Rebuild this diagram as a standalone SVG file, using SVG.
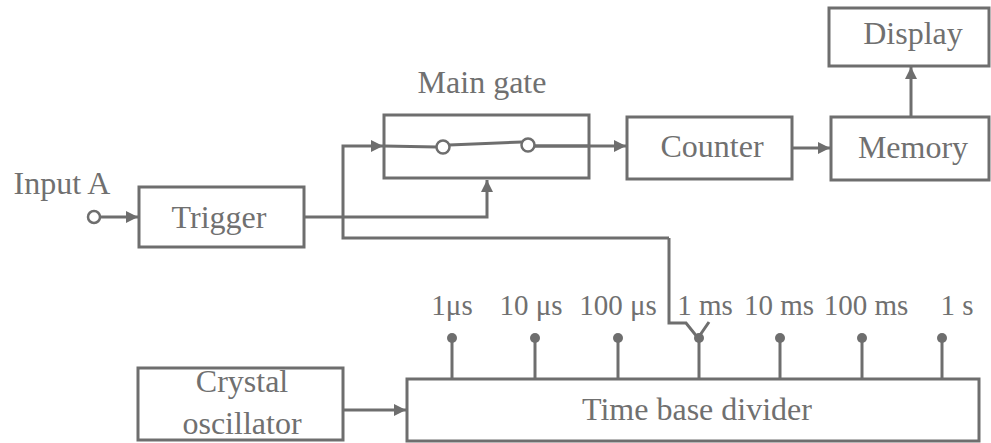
<svg xmlns="http://www.w3.org/2000/svg" width="991" height="443" viewBox="0 0 991 443">
<defs>
<style>
.box{fill:none;stroke:#6e6e6e;stroke-width:3}
.ln{fill:none;stroke:#6e6e6e;stroke-width:3}
.arr{marker-end:url(#ah)}
.t{font-family:"Liberation Serif","Times New Roman",serif;font-size:32px;fill:#707070;text-anchor:middle}
.s{font-family:"Liberation Serif","Times New Roman",serif;font-size:29px;fill:#707070;text-anchor:middle}
.dot{fill:#6e6e6e}
.oc{fill:#fff;stroke:#6e6e6e;stroke-width:2.5}
</style>
<marker id="ah" viewBox="0 0 10 10" refX="10" refY="5" markerWidth="5.5" markerHeight="4" markerUnits="strokeWidth" orient="auto">
<path d="M0,0 L10,5 L0,10 z" fill="#6e6e6e"/>
</marker>
</defs>
<rect width="991" height="443" fill="#fff"/>

<g id="connectors">
<line class="ln arr" x1="100" y1="217" x2="138" y2="217"/>
<polyline class="ln arr" points="304,217 487,217 487,180"/>
<polyline class="ln arr" points="669,238 343,238 343,146 383,146"/>
<polyline class="ln" points="669,238 669,323 686,323 698,338 709,322"/>
<line class="ln arr" x1="534" y1="146" x2="626" y2="146"/>
<line class="ln arr" x1="792" y1="148" x2="830" y2="148"/>
<line class="ln arr" x1="911" y1="117" x2="911" y2="67"/>
<line class="ln arr" x1="343" y1="410" x2="406" y2="410"/>
</g>

<g id="inputA">
<text class="t" x="62" y="194">Input A</text>
<circle class="oc" cx="94" cy="217" r="6"/>
</g>

<g id="trigger">
<rect class="box" x="139" y="187" width="165" height="60"/>
<text class="t" x="219" y="228">Trigger</text>
</g>

<g id="maingate">
<text class="t" x="482" y="93">Main gate</text>
<rect class="box" x="384" y="115" width="205" height="63"/>
<line class="ln" x1="384" y1="146" x2="437" y2="147"/>
<line class="ln" x1="449" y1="145" x2="522" y2="142"/>
<line class="ln" x1="534" y1="146" x2="589" y2="146"/>
<circle class="oc" cx="443" cy="147" r="6.5"/>
<circle class="oc" cx="528" cy="145" r="6.5"/>
</g>

<g id="counter">
<rect class="box" x="627" y="117" width="165" height="62"/>
<text class="t" x="712" y="157">Counter</text>
</g>

<g id="memory">
<rect class="box" x="831" y="117" width="158" height="63"/>
<text class="t" x="913" y="158">Memory</text>
</g>

<g id="display">
<rect class="box" x="829" y="8" width="160" height="58"/>
<text class="t" x="913" y="44">Display</text>
</g>

<g id="crystal">
<rect class="box" x="138" y="368" width="205" height="72"/>
<text class="t" x="242" y="392">Crystal</text>
<text class="t" x="242" y="434">oscillator</text>
</g>

<g id="timebase">
<rect class="box" x="407" y="379" width="572" height="62"/>
<text class="t" x="697" y="420">Time base divider</text>
<g class="taps">
<line class="ln" x1="452" y1="338" x2="452" y2="379"/><circle class="dot" cx="452" cy="338" r="5"/>
<line class="ln" x1="535" y1="338" x2="535" y2="379"/><circle class="dot" cx="535" cy="338" r="5"/>
<line class="ln" x1="618" y1="338" x2="618" y2="379"/><circle class="dot" cx="618" cy="338" r="5"/>
<line class="ln" x1="699" y1="338" x2="699" y2="379"/><circle class="dot" cx="699" cy="338" r="5"/>
<line class="ln" x1="780" y1="338" x2="780" y2="379"/><circle class="dot" cx="780" cy="338" r="5"/>
<line class="ln" x1="862" y1="338" x2="862" y2="379"/><circle class="dot" cx="862" cy="338" r="5"/>
<line class="ln" x1="942" y1="338" x2="942" y2="379"/><circle class="dot" cx="942" cy="338" r="5"/>
</g>
<text class="s" x="452" y="315">1μs</text>
<text class="s" x="531" y="315">10 μs</text>
<text class="s" x="618" y="315">100 μs</text>
<text class="s" x="705" y="315">1 ms</text>
<text class="s" x="779" y="315">10 ms</text>
<text class="s" x="866" y="315">100 ms</text>
<text class="s" x="957" y="315">1 s</text>
</g>
</svg>
